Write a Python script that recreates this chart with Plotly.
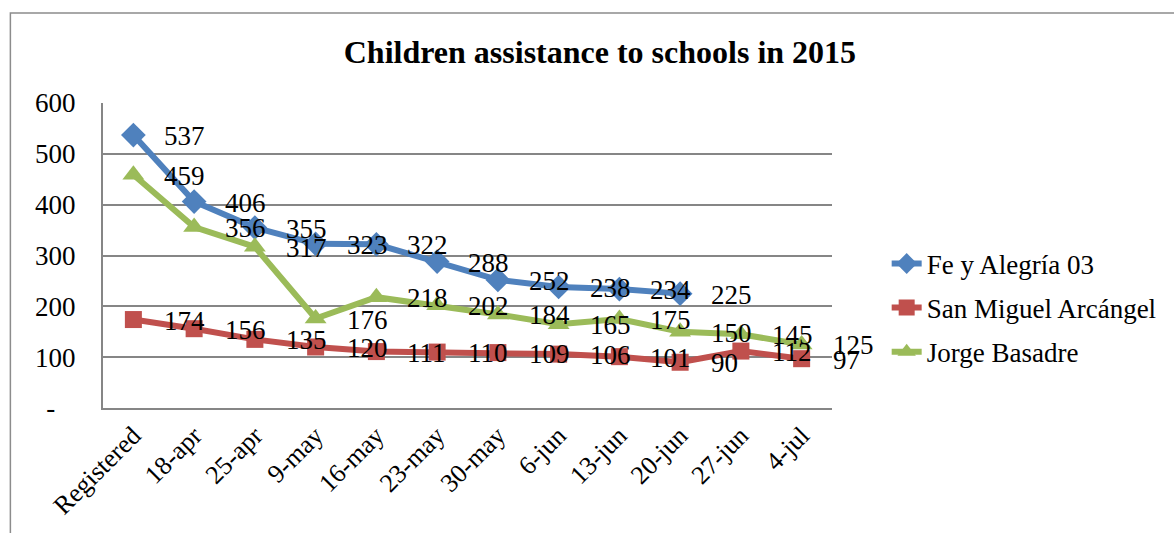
import plotly.graph_objects as go

categories = ["Registered", "18-apr", "25-apr", "9-may", "16-may", "23-may", "30-may",
              "6-jun", "13-jun", "20-jun", "27-jun", "4-jul"]
fe_y_alegria = [537, 406, 355, 323, 322, 288, 252, 238, 234, 225, None, None]
san_miguel = [174, 156, 135, 120, 111, 110, 109, 106, 101, 90, 112, 97]
jorge_basadre = [459, 356, 317, 176, 218, 202, 184, 165, 175, 150, 145, 125]
y_ticks = [0, 100, 200, 300, 400, 500, 600]
y_tick_labels = ["-\u00a0\u00a0\u00a0", "100", "200", "300", "400", "500", "600"]

FONT = "Liberation Serif, Times New Roman, serif"

series = [
    ("Fe y Alegría 03", fe_y_alegria, "#4F81BD", "diamond", 19),
    ("San Miguel Arcángel", san_miguel, "#C0504D", "square", 17),
    ("Jorge Basadre", jorge_basadre, "#9BBB59", "triangle-up", 19),
]

fig = go.Figure()
annotations = []
for i, (name, vals, color, sym, msize) in enumerate(series):
    fig.add_trace(go.Scatter(
        x=categories, y=vals, name=name, mode="lines+markers",
        line=dict(color=color, width=6),
        marker=dict(symbol=sym, size=msize, color=color),
        legendgroup=f"g{i}",
    ))
    for c, v in zip(categories, vals):
        if v is None:
            continue
        annotations.append(dict(
            x=c, y=v, xref="x", yref="y", text=str(v), showarrow=False,
            xanchor="left", yanchor="middle", xshift=29, yshift=-1,
            font=dict(family=FONT, size=27, color="black"),
        ))

fig.update_layout(
    width=1174, height=533,
    margin=dict(l=103, r=339, t=103, b=125),
    paper_bgcolor="white", plot_bgcolor="white",
    title=dict(text="<b>Children assistance to schools in 2015</b>",
               x=0.511, xref="container", y=1 - 52 / 533, yref="container",
               xanchor="center", yanchor="middle",
               font=dict(family=FONT, size=32, color="black")),
    font=dict(family=FONT, color="black"),
    showlegend=True,
    legend=dict(x=1.075, y=0.328, xanchor="left", yanchor="middle",
                font=dict(family=FONT, size=27, color="black"),
                tracegroupgap=6, bgcolor="rgba(0,0,0,0)"),
    annotations=annotations,
    shapes=[dict(type="rect", xref="paper", yref="paper",
                 x0=(10 - 103) / 732, x1=(1190 - 103) / 732,
                 y0=(408 - 550) / 305, y1=(408 - 13) / 305,
                 line=dict(color="#8c8c8c", width=1.5), layer="below")],
)

fig.update_xaxes(
    type="category", categoryorder="array", categoryarray=categories,
    showgrid=False, showline=True, linecolor="#868686", linewidth=2,
    tickangle=-45, tickfont=dict(family=FONT, size=26, color="black"),
    ticks="", range=[-0.5, 11.5],
)
fig.update_yaxes(
    range=[0, 600], tickmode="array", tickvals=y_ticks, ticktext=y_tick_labels,
    showgrid=True, gridcolor="#868686", gridwidth=2,
    showline=True, linecolor="#868686", linewidth=2,
    zeroline=False, ticks="", ticklabelstandoff=20,
    tickfont=dict(family=FONT, size=27, color="black"),
)

fig.write_html("out.html")
